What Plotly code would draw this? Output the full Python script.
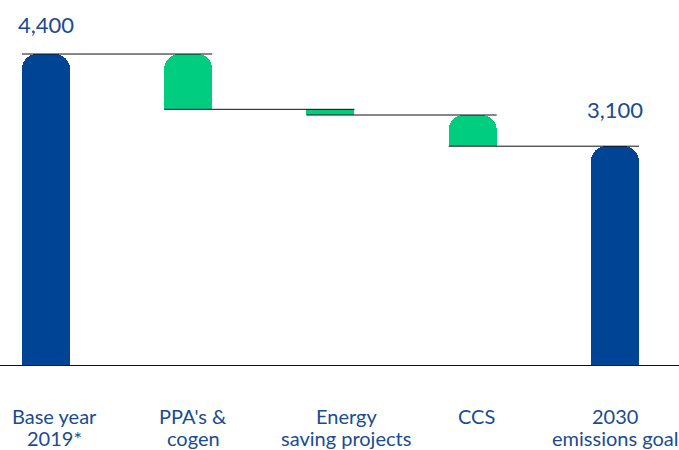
import plotly.graph_objects as go

# Emissions bridge: 2019 base year down to the 2030 goal
categories = ["Base year<br>2019*", "PPA's &<br>cogen", "Energy<br>saving projects", "CCS", "2030<br>emissions goal"]
base_year_value = 4400
reductions = [780, 80, 440]
goal_value = 3100
value_labels = ["4,400", "3,100"]

BLUE = "#004595"
GREEN = "#00CD80"
TEXT_BLUE = "#1A4B92"
FONT = "Lato"
BAR_WIDTH = 0.3375
LABEL_XSHIFT = [9, 5, 16, 4, 0]   # px nudges for the category captions
FLAT_STEP = 2                      # the thin step is drawn with square corners
X_RANGE = [-0.323, 4.45]
Y_RANGE = [0, 4880]

x_pos = list(range(len(categories)))

# bar heights and invisible offsets for the waterfall steps
heights = [base_year_value]
bases = [0]
level = base_year_value
for r in reductions:
    level -= r
    heights.append(r)
    bases.append(level)
heights.append(goal_value)
bases.append(0)
colors = [BLUE] + [GREEN] * len(reductions) + [BLUE]

rounded = [h if i != FLAT_STEP else None for i, h in enumerate(heights)]
flat = [h if i == FLAT_STEP else None for i, h in enumerate(heights)]
flat_bases = [b if i == FLAT_STEP else None for i, b in enumerate(bases)]

fig = go.Figure()
# stack with rounded tops (transparent spacer + visible step)
fig.add_trace(go.Bar(
    x=x_pos, y=bases, width=BAR_WIDTH,
    marker=dict(color="rgba(0,0,0,0)", line=dict(width=0)),
    hoverinfo="skip",
))
fig.add_trace(go.Bar(
    x=x_pos, y=rounded, width=BAR_WIDTH,
    marker=dict(color=colors, cornerradius=15, line=dict(width=0)),
    hoverinfo="skip",
))
# separate overlaid stack for the thin step, square corners
fig.add_trace(go.Bar(
    x=x_pos, y=flat_bases, width=BAR_WIDTH, xaxis="x2", yaxis="y2",
    marker=dict(color="rgba(0,0,0,0)", line=dict(width=0)),
    hoverinfo="skip",
))
fig.add_trace(go.Bar(
    x=x_pos, y=flat, width=BAR_WIDTH, xaxis="x2", yaxis="y2",
    marker=dict(color=colors, line=dict(width=0)),
    hoverinfo="skip",
))

# connector lines: from the left edge of one bar to the right edge of the next
tops = [b + h for b, h in zip(bases, heights)]
levels = [tops[0]] + bases[1:1 + len(reductions)]
for i, lv in enumerate(levels):
    fig.add_shape(type="line", xref="x", yref="y",
                  x0=x_pos[i] - BAR_WIDTH / 2, x1=x_pos[i + 1] + BAR_WIDTH / 2,
                  y0=lv, y1=lv, line=dict(color="#111111", width=1), layer="above")

# baseline
fig.add_shape(type="line", xref="paper", yref="y", x0=0, x1=1, y0=0, y1=0,
              line=dict(color="#111111", width=2), layer="above")

# value labels above the total bars
for xi, val, txt, shift in [(x_pos[0], base_year_value, value_labels[0], 14),
                            (x_pos[-1], goal_value, value_labels[1], 21)]:
    fig.add_annotation(x=xi, y=val, text=txt, showarrow=False, yanchor="bottom",
                       yshift=shift, font=dict(family=FONT, size=22, color=TEXT_BLUE))

# category captions under the baseline, one annotation per line
for xi, cat, dx in zip(x_pos, categories, LABEL_XSHIFT):
    for k, line in enumerate(cat.split("<br>")):
        fig.add_annotation(x=xi, y=0, text=line, showarrow=False, yanchor="middle",
                           xshift=dx, yshift=-50 - 22 * k,
                           font=dict(family=FONT, size=20, color=TEXT_BLUE))

fig.update_layout(
    width=679, height=450,
    margin=dict(l=0, r=0, t=20, b=84),
    paper_bgcolor="white", plot_bgcolor="white",
    showlegend=False, barmode="stack",
    xaxis=dict(range=X_RANGE, visible=False),
    yaxis=dict(range=Y_RANGE, visible=False),
    xaxis2=dict(range=X_RANGE, visible=False, overlaying="x"),
    yaxis2=dict(range=Y_RANGE, visible=False, overlaying="y"),
)

fig.write_html("out.html")
